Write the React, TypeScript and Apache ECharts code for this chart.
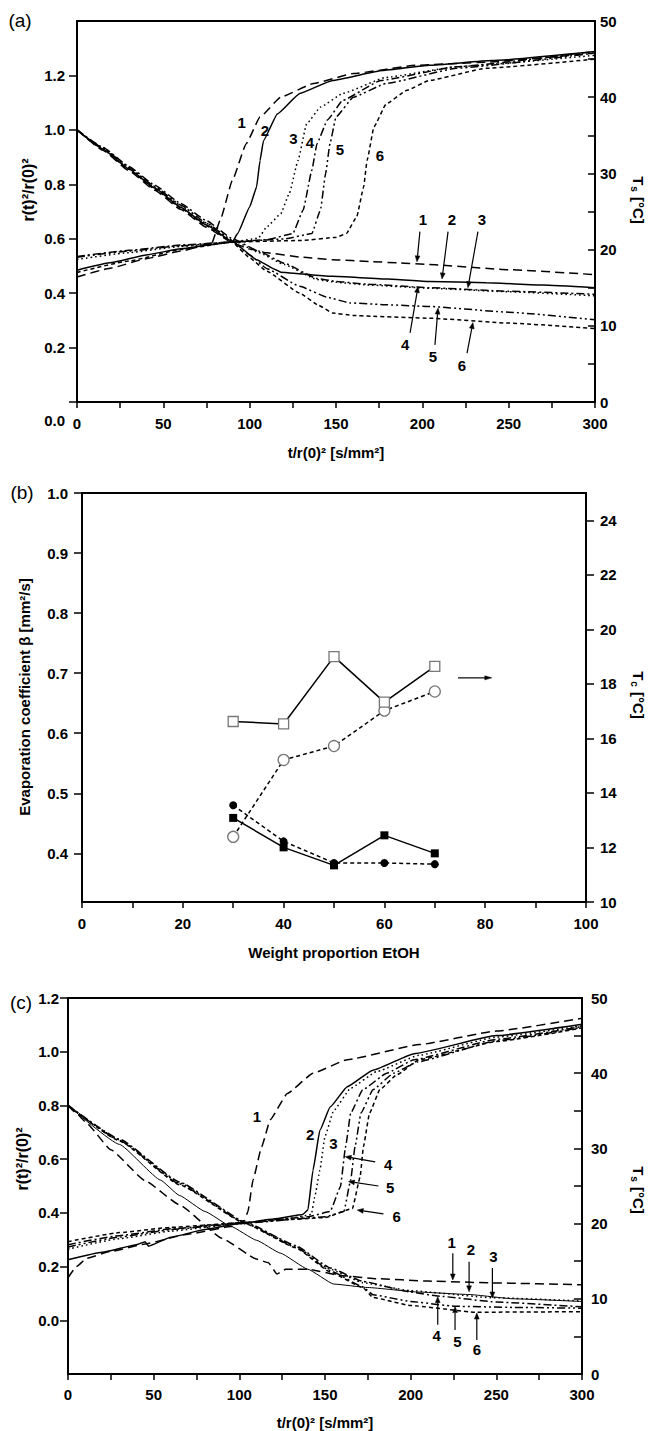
import { useEffect, useRef } from "react";
import * as echarts from "echarts";

const FONT = "'Liberation Sans', Arial, Helvetica, sans-serif";

// ---------------- Panel (a) ----------------
const aTicksX = [0, 25, 50, 75, 100, 125, 150, 175, 200, 225, 250, 275, 300];
const aLabelsX = [0, 50, 100, 150, 200, 250, 300];
const aTicksL = [0, 0.2, 0.4, 0.6, 0.8, 1.0, 1.2];
const aLabelsL = [0.2, 0.4, 0.6, 0.8, 1.0, 1.2];
const aTicksR = [0, 5, 10, 15, 20, 25, 30, 35, 40, 45, 50];
const aLabelsR = [0, 10, 20, 30, 40, 50];

const a_r1 = [[0, 1.0], [15, 0.925], [30, 0.85], [45, 0.778], [60, 0.708], [75, 0.642], [90, 0.585], [100, 0.562], [110, 0.548], [130, 0.532], [148, 0.523], [170, 0.516], [187, 0.511], [204, 0.505], [250, 0.486], [300, 0.468]];
const a_r2 = [[0, 1.0], [15, 0.93], [30, 0.856], [45, 0.786], [60, 0.716], [75, 0.65], [90, 0.59], [104, 0.523], [115, 0.486], [118, 0.477], [123, 0.474], [148, 0.462], [180, 0.452], [204, 0.443], [237, 0.438], [270, 0.43], [300, 0.42]];
const a_r3 = [[0, 1.0], [15, 0.932], [30, 0.86], [45, 0.79], [60, 0.722], [75, 0.656], [90, 0.595], [105, 0.55], [120, 0.505], [139, 0.45], [150, 0.44], [168, 0.43], [204, 0.418], [250, 0.405], [300, 0.39]];
const a_r4 = [[0, 1.0], [15, 0.936], [30, 0.866], [45, 0.797], [60, 0.73], [75, 0.666], [90, 0.6], [105, 0.555], [120, 0.51], [139, 0.454], [150, 0.443], [168, 0.433], [204, 0.42], [250, 0.407], [300, 0.396]];
const a_r5 = [[0, 1.0], [15, 0.934], [30, 0.862], [45, 0.792], [60, 0.724], [75, 0.658], [90, 0.592], [100, 0.54], [110, 0.49], [129, 0.425], [145, 0.385], [158, 0.364], [180, 0.357], [204, 0.351], [250, 0.33], [300, 0.302]];
const a_r6 = [[0, 1.0], [15, 0.928], [30, 0.855], [45, 0.783], [60, 0.713], [75, 0.647], [90, 0.586], [100, 0.53], [110, 0.48], [129, 0.4], [140, 0.355], [148, 0.327], [160, 0.318], [170, 0.315], [204, 0.308], [250, 0.29], [300, 0.27]];

const a_T1 = [[0, 16.4], [20, 17.6], [40, 18.8], [60, 19.8], [78, 20.8], [83, 23.9], [90, 29.1], [98, 33.9], [106, 37.4], [118, 40.0], [137, 41.8], [160, 43.1], [197, 44.2], [237, 44.6], [300, 45.8]];
const a_T2 = [[0, 17.3], [20, 18.3], [40, 19.3], [60, 20.1], [80, 20.7], [90, 21.0], [93, 22.1], [100, 25.6], [104, 28.2], [106, 31.7], [108, 34.3], [116, 37.8], [129, 40.5], [148, 42.2], [177, 43.5], [204, 44.2], [240, 44.8], [300, 46.0]];
const a_T3 = [[0, 18.7], [30, 19.6], [60, 20.4], [90, 21.0], [105, 21.5], [110, 23.0], [118, 24.7], [123, 27.4], [128, 31.7], [133, 36.5], [141, 38.7], [154, 40.5], [179, 42.6], [220, 44.0], [300, 45.5]];
const a_T4 = [[0, 19.1], [30, 19.9], [60, 20.6], [90, 21.0], [110, 21.3], [125, 22.1], [131, 25.2], [136, 30.4], [139, 33.9], [145, 37.0], [154, 39.6], [176, 42.2], [220, 44.0], [300, 46.0]];
const a_T5 = [[0, 19.0], [30, 19.8], [60, 20.5], [90, 21.0], [120, 21.4], [136, 22.1], [141, 25.2], [144, 30.0], [146.5, 33.9], [150, 37.4], [160, 40.0], [179, 41.8], [220, 43.8], [300, 45.8]];
const a_T6 = [[0, 17.0], [30, 18.5], [60, 20.0], [90, 21.0], [130, 21.2], [150, 21.6], [156, 22.1], [162, 24.3], [166, 28.2], [168, 31.7], [172, 36.1], [179, 39.1], [191, 40.9], [204, 42.2], [237, 43.8], [300, 45.0]];

// labels next to the temperature curves: [text, t, T]
const aTopLabels = [["1", 95.4, 36.7], ["2", 108.9, 35.6], ["3", 125.3, 34.6], ["4", 134.9, 34.1], ["5", 152.3, 33.2], ["6", 175.5, 32.4]];
// labels with arrows to the radius curves: [text, lt, lr, t1, r1, t2, r2]
const aLowLabels = [
  ["1", 200.4, 0.67, 198.6, 0.626, 196.9, 0.515],
  ["2", 217.2, 0.67, 214.9, 0.626, 211.4, 0.452],
  ["3", 234.5, 0.67, 232.2, 0.626, 226.4, 0.42],
  ["4", 190, 0.21, 192.9, 0.254, 197.5, 0.424],
  ["5", 206.2, 0.169, 207.3, 0.21, 209.1, 0.345],
  ["6", 223, 0.133, 225.9, 0.18, 229.3, 0.292],
];

// ---------------- Panel (b) ----------------
const bTicksX = [0, 10, 20, 30, 40, 50, 60, 70, 80, 90, 100];
const bLabelsX = [0, 20, 40, 60, 80, 100];
const bTicksL = [0.4, 0.5, 0.6, 0.7, 0.8, 0.9, 1.0];
const bTicksR = [10, 12, 14, 16, 18, 20, 22, 24];
const b_x = [30, 40, 50, 60, 70];
const b_betaSquare = [0.459, 0.41, 0.38, 0.43, 0.4];
const b_betaCircle = [0.48, 0.42, 0.384, 0.384, 0.382];
const b_TcSquare = [16.62, 16.53, 19.0, 17.33, 18.64];
const b_TcCircle = [12.39, 15.21, 15.72, 17.02, 17.72];
const bArrow = [74.6, 18.22, 81.3, 18.22];

// ---------------- Panel (c) ----------------
const cTicksL = [0, 0.2, 0.4, 0.6, 0.8, 1.0, 1.2];

const c_r1 = [[0, 0.8], [5, 0.77], [10, 0.74], [25, 0.635], [45, 0.52], [65, 0.43], [90, 0.305], [110, 0.228], [117, 0.214], [122, 0.172], [127, 0.19], [140, 0.19], [160, 0.166], [180, 0.155], [210, 0.146], [250, 0.139], [300, 0.132]];
const c_r2 = [[0, 0.8], [30, 0.655], [54, 0.522], [65, 0.465], [80, 0.405], [95, 0.35], [110, 0.298], [124, 0.25], [140, 0.19], [155, 0.135], [175, 0.122], [205, 0.105], [234, 0.096], [260, 0.08], [300, 0.07]];
const c_r3 = [[0, 0.8], [30, 0.672], [65, 0.512], [104, 0.362], [133, 0.275], [153, 0.19], [172, 0.14], [200, 0.11], [248, 0.084], [300, 0.072]];
const c_r4 = [[0, 0.8], [30, 0.675], [65, 0.515], [104, 0.364], [133, 0.278], [153, 0.195], [172, 0.145], [200, 0.105], [216, 0.09], [250, 0.068], [300, 0.05]];
const c_r5 = [[0, 0.8], [30, 0.67], [65, 0.508], [104, 0.36], [133, 0.272], [153, 0.185], [172, 0.125], [178, 0.095], [200, 0.07], [226, 0.052], [260, 0.048], [300, 0.045]];
const c_r6 = [[0, 0.8], [30, 0.668], [65, 0.505], [104, 0.358], [133, 0.27], [153, 0.18], [172, 0.122], [178, 0.085], [200, 0.055], [238, 0.03], [300, 0.032]];

const c_T1 = [[0, 12.8], [5, 14.3], [11, 15.4], [25, 16.3], [45, 17.3], [70, 18.6], [95, 19.6], [103, 20.4], [105, 21.6], [108, 25.8], [113, 30.2], [118, 33.8], [128, 37.3], [143, 40.0], [163, 41.8], [205, 43.8], [250, 45.6], [300, 47.3]];
const c_T2 = [[0, 15.2], [20, 16.2], [40, 17.2], [45, 17.6], [47, 17.0], [60, 18.2], [80, 19.2], [100, 20.0], [120, 20.6], [137, 21.2], [140, 21.8], [143, 27.1], [147, 32.4], [153, 35.5], [163, 38.2], [178, 40.4], [202, 42.6], [250, 45.0], [300, 46.5]];
const c_T3 = [[0, 16.6], [30, 18.0], [60, 19.0], [100, 20.0], [130, 20.7], [142, 21.2], [144, 23.5], [147, 27.1], [150, 31.6], [155, 35.0], [165, 38.0], [180, 40.2], [205, 42.4], [250, 44.8], [300, 46.3]];
const c_T4 = [[0, 17.2], [30, 18.4], [60, 19.3], [100, 20.1], [140, 20.9], [153, 21.6], [159, 24.9], [162, 30.2], [165, 34.7], [172, 37.8], [186, 40.0], [202, 41.8], [250, 44.5], [300, 46.2]];
const c_T5 = [[0, 16.9], [30, 18.2], [60, 19.2], [100, 20.0], [150, 20.9], [161, 21.6], [165, 25.8], [167.5, 30.2], [171, 34.7], [178, 37.8], [190, 40.0], [204, 41.5], [250, 44.3], [300, 46.1]];
const c_T6 = [[0, 17.6], [30, 18.8], [60, 19.5], [100, 20.1], [150, 20.8], [166, 22.0], [170.5, 26.2], [172.4, 30.2], [176, 34.7], [182, 37.8], [192, 39.8], [205, 41.8], [250, 44.2], [300, 46.0]];

const cTopLabels = [["1", 110.2, 34.2], ["2", 141.3, 31.8], ["3", 154.9, 30.7]];
const cTopArrows = [
  ["4", 186.8, 27.9, 179.3, 28.2, 161.8, 28.9],
  ["5", 188, 24.8, 181.2, 25.0, 163.7, 25.6],
  ["6", 191.9, 21.0, 184.1, 21.3, 168.8, 21.8],
];
const cLowLabels = [
  ["1", 224, 0.288, 224.6, 0.25, 224.6, 0.15],
  ["2", 235.1, 0.262, 234.1, 0.218, 234.1, 0.106],
  ["3", 248.3, 0.237, 247.7, 0.195, 247.7, 0.083],
  ["4", 215.2, -0.055, 215.8, -0.017, 215.8, 0.088],
  ["5", 227.3, -0.08, 225.9, -0.036, 225.9, 0.051],
  ["6", 238.6, -0.11, 238.6, -0.073, 238.6, 0.027],
];

// line dash patterns for curves 1..6
const DASH: any[] = [[9, 5], "solid", [1.6, 3], [8, 3, 2, 3], [8, 3, 2, 3, 2, 3], [4, 3]];

const labelStyle = { color: "#000", fontSize: 15, fontWeight: "bold", fontFamily: FONT };

function xAx(gridIndex: number, min: number, max: number, ticks: number[], labels: number[], margin: number) {
  return {
    type: "value", gridIndex, min, max, position: "bottom",
    axisLine: { show: true, onZero: false, lineStyle: { color: "#000", width: 2 } },
    axisTick: { show: true, inside: false, length: 6, lineStyle: { color: "#000", width: 1.5 }, customValues: ticks },
    axisLabel: { show: true, margin, customValues: labels, ...labelStyle, formatter: (v: number) => String(Math.round(v)) },
    splitLine: { show: false },
  };
}

function yAx(gridIndex: number, position: string, min: number, max: number, ticks: number[], labels: number[],
  margin: number, inside: boolean, len: number, fmt: (v: number) => string) {
  return {
    type: "value", gridIndex, position, min, max,
    axisLine: { show: true, onZero: false, lineStyle: { color: "#000", width: 2 } },
    axisTick: { show: true, inside, length: len, lineStyle: { color: "#000", width: 1.5 }, customValues: ticks },
    axisLabel: { show: true, margin, customValues: labels, ...labelStyle, formatter: fmt },
    splitLine: { show: false },
  };
}

function curve(data: number[][], xi: number, yi: number, k: number, width = 1.5) {
  return {
    type: "line", xAxisIndex: xi, yAxisIndex: yi, data, showSymbol: false, symbol: "none",
    smooth: 0.12, smoothMonotone: "x", silent: true, z: 3,
    lineStyle: { color: "#000", width, type: DASH[k] },
  };
}

function pointSeries(ys: number[], yi: number, symbol: string, size: number, open: boolean, dash: any) {
  return {
    type: "line", xAxisIndex: 1, yAxisIndex: yi, data: b_x.map((x, i) => [x, ys[i]]),
    showSymbol: true, symbol, symbolSize: size, silent: true, z: 4,
    lineStyle: { color: "#000", width: 1.5, type: dash },
    itemStyle: open ? { color: "#fff", borderColor: "#777", borderWidth: 1.3 } : { color: "#000", borderColor: "#000", borderWidth: 0 },
  };
}

const fix1 = (v: number) => v.toFixed(1);
const int0 = (v: number) => String(Math.round(v));

function buildOption() {
  const grid = (left: number, top: number, width: number, height: number) => ({
    left, top, width, height, show: true, borderColor: "#000", borderWidth: 2, backgroundColor: "transparent",
    containLabel: false, outerBoundsMode: "none",
  });
  return {
    animation: false,
    backgroundColor: "#fff",
    grid: [grid(77, 21, 518, 381), grid(82, 493, 504, 409), grid(68, 998, 514, 376)],
    xAxis: [
      xAx(0, 0, 300, aTicksX, aLabelsX, 14),
      xAx(1, 0, 100, bTicksX, bLabelsX, 14),
      xAx(2, 0, 300, aTicksX, aLabelsX, 13),
    ],
    yAxis: [
      yAx(0, "left", 0, 1.4, aTicksL, aLabelsL, 12, false, 8, fix1),
      yAx(0, "right", 0, 50, aTicksR, aLabelsR, 5, true, 7, int0),
      yAx(1, "left", 0.319, 1.0, bTicksL, bTicksL, 14, false, 8, fix1),
      yAx(1, "right", 10, 25, bTicksR, bTicksR, 14, false, 8, int0),
      yAx(2, "left", -0.2, 1.2, cTicksL, cTicksL, 9, false, 8, fix1),
      yAx(2, "right", 0, 50, aTicksR, aLabelsR, 9, true, 8, int0),
    ],
    series: [
      curve(a_r1, 0, 0, 0), curve(a_r2, 0, 0, 1), curve(a_r3, 0, 0, 2),
      curve(a_r4, 0, 0, 3), curve(a_r5, 0, 0, 4), curve(a_r6, 0, 0, 5),
      curve(a_T1, 0, 1, 0), curve(a_T2, 0, 1, 1), curve(a_T3, 0, 1, 2),
      curve(a_T4, 0, 1, 3), curve(a_T5, 0, 1, 4), curve(a_T6, 0, 1, 5),
      pointSeries(b_TcCircle, 3, "circle", 11, true, [4, 3]),
      pointSeries(b_TcSquare, 3, "rect", 10, true, "solid"),
      pointSeries(b_betaCircle, 2, "circle", 8, false, [4, 3]),
      pointSeries(b_betaSquare, 2, "rect", 8, false, "solid"),
      curve(c_r1, 2, 4, 0), curve(c_r2, 2, 4, 1, 1), curve(c_r3, 2, 4, 2),
      curve(c_r4, 2, 4, 3), curve(c_r5, 2, 4, 4), curve(c_r6, 2, 4, 5),
      curve(c_T1, 2, 5, 0), curve(c_T2, 2, 5, 1), curve(c_T3, 2, 5, 2),
      curve(c_T4, 2, 5, 3), curve(c_T5, 2, 5, 4), curve(c_T6, 2, 5, 5),
    ],
  };
}

function txt(x: number, y: number, text: string, size: number, bold = true, rotation = 0, align = "center") {
  return {
    type: "text", x, y, rotation, z: 10, silent: true,
    style: {
      text, fill: "#000", font: `${bold ? "bold " : ""}${size}px ${FONT}`,
      fontSize: size, fontWeight: bold ? "bold" : "normal", fontFamily: FONT,
      align, textAlign: align, verticalAlign: "middle", textVerticalAlign: "middle",
    },
  };
}

function subText(x: number, y: number, main: string, sub: string, rest: string, rotation: number) {
  const a = { fontSize: 15, fontWeight: "bold", fontFamily: FONT, fill: "#000", color: "#000", lineHeight: 18, verticalAlign: "middle" };
  const b = { fontSize: 10, fontWeight: "bold", fontFamily: FONT, fill: "#000", color: "#000", lineHeight: 18, verticalAlign: "bottom", padding: [9, 1, 0, 1] };
  return {
    type: "text", x, y, rotation, z: 10, silent: true,
    style: {
      text: `{a|${main}}{b|${sub}}{a|${rest}}`, rich: { a, b },
      align: "center", textAlign: "center", verticalAlign: "middle", textVerticalAlign: "middle",
    },
  };
}

function arrow(p1: number[], p2: number[], head = 6, hw = 2.4) {
  const dx = p2[0] - p1[0], dy = p2[1] - p1[1];
  const L = Math.sqrt(dx * dx + dy * dy) || 1;
  const ux = dx / L, uy = dy / L, nx = -uy, ny = ux;
  const bx = p2[0] - ux * head, by = p2[1] - uy * head;
  return [
    { type: "line", z: 10, silent: true, shape: { x1: p1[0], y1: p1[1], x2: bx, y2: by }, style: { stroke: "#000", lineWidth: 1.2 } },
    { type: "polygon", z: 10, silent: true, shape: { points: [[p2[0], p2[1]], [bx + nx * hw, by + ny * hw], [bx - nx * hw, by - ny * hw]] }, style: { fill: "#000", stroke: "#000", lineWidth: 0.5 } },
  ];
}

function buildGraphics(chart: any) {
  const px = (xi: number, yi: number, x: number, y: number) => chart.convertToPixel({ xAxisIndex: xi, yAxisIndex: yi }, [x, y]);
  const els: any[] = [];
  // panel letters
  els.push(txt(20, 20, "(a)", 19, false));
  els.push(txt(22, 492, "(b)", 19, false));
  els.push(txt(21, 1002, "(c)", 19, false));
  // special 0.0 label of panel (a)
  els.push(txt(65, 420, "0.0", 15, true, 0, "right"));
  // axis names
  els.push(txt(336, 452, "t/r(0)² [s/mm²]", 15));
  els.push(txt(28, 190, "r(t)²/r(0)²", 16, true, Math.PI / 2));
  els.push(subText(638, 200, "T", "s", " [°C]", -Math.PI / 2));
  els.push(txt(334, 952, "Weight proportion EtOH", 15));
  els.push(txt(24, 697, "Evaporation coefficient β [mm²/s]", 15, true, Math.PI / 2));
  els.push(subText(638, 695, "T", "c", " [°C]", -Math.PI / 2));
  els.push(txt(325, 1422, "t/r(0)² [s/mm²]", 15));
  els.push(txt(22, 1159, "r(t)²/r(0)²", 16, true, Math.PI / 2));
  els.push(subText(638, 1190, "T", "s", " [°C]", -Math.PI / 2));

  // panel (a) annotations
  aTopLabels.forEach((l: any) => { const p = px(0, 1, l[1], l[2]); els.push(txt(p[0], p[1], l[0], 15)); });
  aLowLabels.forEach((l: any) => {
    const p = px(0, 0, l[1], l[2]);
    els.push(txt(p[0], p[1], l[0], 15));
    els.push(...arrow(px(0, 0, l[3], l[4]), px(0, 0, l[5], l[6])));
  });
  // panel (b) arrow
  els.push(...arrow(px(1, 3, bArrow[0], bArrow[1]), px(1, 3, bArrow[2], bArrow[3]), 7, 2));
  // panel (c) annotations
  cTopLabels.forEach((l: any) => { const p = px(2, 5, l[1], l[2]); els.push(txt(p[0], p[1], l[0], 15)); });
  cTopArrows.forEach((l: any) => {
    const p = px(2, 5, l[1], l[2]);
    els.push(txt(p[0], p[1], l[0], 15));
    els.push(...arrow(px(2, 5, l[3], l[4]), px(2, 5, l[5], l[6])));
  });
  cLowLabels.forEach((l: any) => {
    const p = px(2, 4, l[1], l[2]);
    els.push(txt(p[0], p[1], l[0], 15));
    els.push(...arrow(px(2, 4, l[3], l[4]), px(2, 4, l[5], l[6])));
  });
  return els;
}

export default function App() {
  const ref = useRef<HTMLDivElement>(null);
  useEffect(() => {
    const chart = echarts.init(ref.current as HTMLDivElement, null, { renderer: "svg" });
    chart.setOption(buildOption() as any);
    chart.setOption({ graphic: { elements: buildGraphics(chart) } } as any);
    return () => chart.dispose();
  }, []);
  return <div ref={ref} style={{ position: "absolute", left: 0, top: 0, width: 656, height: 1431, background: "#fff" }} />;
}
